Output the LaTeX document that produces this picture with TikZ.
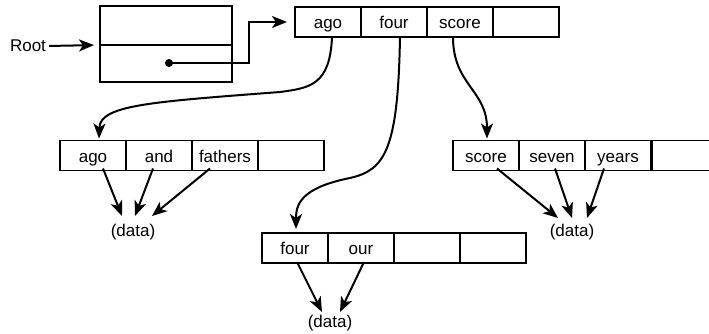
\documentclass[tikz,border=0pt]{standalone}
\usepackage{fontspec}
\setmainfont{Liberation Sans}
\usetikzlibrary{arrows.meta,calc}
\begin{document}
\begin{tikzpicture}[x=1pt,y=-1pt,
  every node/.style={font=\fontsize{17}{20}\selectfont},
  cell/.style={draw,line width=1.9pt,minimum width=66pt,minimum height=30pt,inner sep=0pt,outer sep=0pt,text height=13.5pt,text depth=0pt},
  half/.style={draw,line width=1.9pt,minimum width=132pt,inner sep=0pt,outer sep=0pt},
  arr/.style={line width=2pt,-{Stealth[length=15pt,width=12pt,inset=4pt]}},
  lbl/.style={inner sep=1pt}]
\useasboundingbox (0,0) rectangle (709,334);
\clip (0,0) rectangle (709,334);
% root record
\node[half,minimum height=39pt] (rt) at (166,25.5) {};
\node[half,minimum height=37pt] (rb) at (166,63.5) {};
\node[circle,fill,inner sep=0pt,minimum size=8pt] (dot) at (169,63) {};
\node[lbl] (root) at (28,46) {Root};
% top node
\node[cell] (t1) at (328,22) {ago};
\node[cell] (t2) at (394,22) {four};
\node[cell] (t3) at (460,22) {score};
\node[cell] (t4) at (526,22) {};
% left node
\node[cell] (la1) at (93,155.5) {ago};
\node[cell] (la2) at (159,155.5) {and};
\node[cell] (la3) at (225,155.5) {fathers};
\node[cell] (la4) at (291,155.5) {};
% right node
\node[cell] (r1) at (486,155.5) {score};
\node[cell] (r2) at (552,155.5) {seven};
\node[cell] (r3) at (618,155.5) {years};
\node[cell] (r4) at (685,155.5) {};
% bottom node
\node[cell] (b1) at (295,248) {four};
\node[cell] (b2) at (361,248) {our};
\node[cell] (b3) at (427,248) {};
\node[cell] (b4) at (493,248) {};
% data labels
\node[lbl] (ld) at (133,232) {(data)};
\node[lbl] (rd) at (572,232) {(data)};
\node[lbl] (bd) at (330,323) {(data)};
% root connectors
\draw[arr,shorten <=2pt,shorten >=6pt] (root.east) -- (rt.south west);
\coordinate (bend) at (249,22);
\draw[arr,shorten >=8pt] (dot.center) -| (bend) -- (t1.west);
% curves
\draw[arr] ($(t1.south)+(4,0)$) .. controls (330,85) and (310,88) .. (280,92)
  .. controls (150,102) and (100,105) .. ($(la1.north)+(6,-2)$);
\draw[arr] ($(t2.south)+(6,0)$) .. controls (398,150) and (385,170) .. (350,178)
  .. controls (300,188) and (296,205) .. ($(b1.north)+(1,-4)$);
\draw[arr] ($(t3.south)+(-7,0)$) .. controls (453,85) and (487,90) .. ($(r1.north)+(1,-2)$);
% data arrows
\draw[arr] ($(la1.south)+(10,-2)$) -- ($(ld)+(-11,-16)$);
\draw[arr] ($(la2.south)+(-6,-2)$) -- ($(ld)+(2,-16)$);
\draw[arr] ($(la3.south)+(-15,-2)$) -- ($(ld)+(19,-16)$);
\draw[arr] ($(r1.south)+(11,-2)$) -- ($(rd)+(-14,-14)$);
\draw[arr] ($(r2.south)+(3,-2)$) -- ($(rd)+(0,-14)$);
\draw[arr] ($(r3.south)+(-14,-2)$) -- ($(rd)+(15,-14)$);
\draw[arr] ($(b1.south)+(2,-1)$) -- ($(bd)+(-8,-11)$);
\draw[arr] ($(b2.south)+(3,-1)$) -- ($(bd)+(10,-11)$);
\end{tikzpicture}
\end{document}
